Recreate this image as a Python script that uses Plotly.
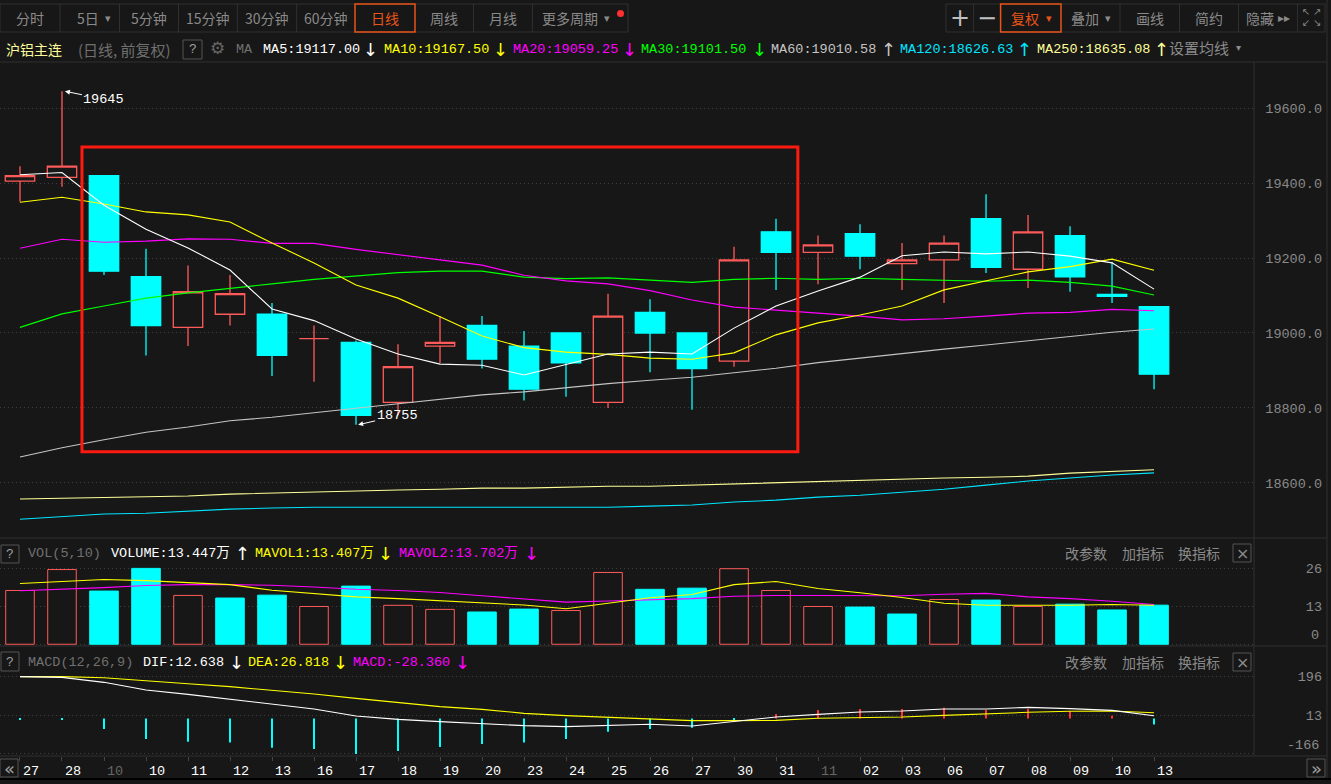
import plotly.graph_objects as go

W = 1331
H = 784
BG = "#171717"
GRAY = "#8a8a8a"
LINE = "#303030"
UP = "#ff5a5a"
DOWN = "#00ffff"
ORANGE = "#e8541a"
MONO = "Liberation Mono, Noto Sans CJK SC"
CJK = "Noto Sans CJK SC"

dates = ["27", "28", "10", "10", "11", "12", "13", "16", "17", "18", "19", "20", "23", "24",
         "25", "26", "27", "30", "31", "11", "02", "03", "06", "07", "08", "09", "10", "13"]
month_marks = [2, 19]  # first day of a month, drawn dimmer

opens = [19405, 19415, 19420, 19150, 19015, 19050, 19050, 18985, 18975, 18815, 18965, 19020, 18965, 19000,
         18815, 19055, 19000, 18925, 19270, 19215, 19265, 19185, 19195, 19305, 19170, 19260, 19103, 19070]
highs = [19445, 19645, 19420, 19225, 19180, 19155, 19080, 19020, 18980, 18970, 19045, 19045, 19005, 19000,
         19105, 19090, 19000, 19230, 19305, 19260, 19290, 19240, 19260, 19370, 19315, 19285, 19190, 19070]
lows = [19350, 19390, 19155, 18940, 18965, 19020, 18885, 18870, 18755, 18780, 18920, 18905, 18820, 18830,
        18800, 18895, 18795, 18910, 19115, 19130, 19170, 19115, 19080, 19160, 19120, 19110, 19080, 18850]
closes = [19420, 19445, 19165, 19020, 19110, 19105, 18940, 18985, 18780, 18910, 18975, 18930, 18850, 18920,
          19045, 19000, 18905, 19195, 19215, 19235, 19205, 19195, 19240, 19175, 19270, 19150, 19098, 18890]

ma5 = [19422, 19428, 19341, 19277, 19227, 19168, 19064, 19033, 18984, 18944, 18917, 18914, 18888, 18917,
       18944, 18949, 18944, 19013, 19072, 19112, 19149, 19206, 19216, 19211, 19216, 19205, 19187, 19117]
ma10 = [19349, 19362, 19344, 19323, 19315, 19296, 19240, 19187, 19128, 19093, 19043, 18992, 18961, 18949,
        18943, 18933, 18930, 18947, 18995, 19027, 19048, 19072, 19115, 19139, 19163, 19177, 19197, 19167.5]
ma20 = [19226, 19250, 19242, 19245, 19251, 19250, 19239, 19239, 19223, 19208, 19195, 19181, 19154, 19139,
        19131, 19113, 19088, 19069, 19061, 19055, 19045, 19035, 19038, 19045, 19053, 19055, 19063, 19059.25]
ma30 = [19015, 19051, 19072, 19093, 19107, 19120, 19131, 19143, 19152, 19161, 19165, 19165, 19149, 19145,
        19147, 19141, 19135, 19143, 19146, 19143, 19146, 19143, 19141, 19138, 19141, 19135, 19125, 19101.5]
ma60 = [18669, 18694, 18715, 18735, 18749, 18766, 18775, 18786, 18799, 18811, 18824, 18835, 18843, 18855,
        18865, 18874, 18882, 18894, 18906, 18921, 18933, 18946, 18957, 18968, 18979, 18990, 19002, 19010.58]
ma120 = [18503, 18511, 18517, 18519, 18525, 18530, 18533, 18535, 18535, 18535, 18535, 18533, 18533, 18533,
         18535, 18538, 18541, 18549, 18554, 18562, 18567, 18575, 18583, 18594, 18605, 18613, 18621, 18626.63]
ma250 = [18557, 18559, 18562, 18562, 18565, 18570, 18573, 18575, 18578, 18581, 18583, 18586, 18586, 18589,
         18591, 18591, 18594, 18599, 18602, 18605, 18607, 18610, 18613, 18615, 18618, 18626, 18631, 18635.08]

volume = [18.5, 25.7, 18.3, 26.1, 16.8, 15.9, 16.9, 13.0, 20.0, 13.4, 12.0, 11.1, 12.1, 11.6,
          24.7, 18.9, 19.3, 26.0, 18.5, 13.0, 12.8, 10.4, 15.4, 15.2, 13.0, 13.8, 11.8, 13.447]
volume_up = [1, 1, 0, 0, 1, 0, 0, 1, 0, 1, 1, 0, 0, 1, 1, 0, 0, 1, 1, 1, 0, 0, 1, 0, 1, 0, 0, 0]
mavol1 = [20.9, 21.6, 22.3, 21.9, 21.2, 20.5, 18.6, 17.5, 16.3, 15.7, 14.9, 14.1, 13.5, 12.2,
          14.2, 16.0, 17.1, 20.5, 21.6, 19.2, 17.7, 16.1, 14.1, 13.4, 13.4, 13.4, 13.7, 13.407]
mavol2 = [18.4, 18.9, 19.5, 20.2, 20.5, 20.5, 20.3, 19.7, 18.9, 18.5, 17.8, 16.7, 15.6, 14.5,
          14.9, 15.3, 15.7, 16.5, 16.8, 16.8, 16.7, 16.7, 17.2, 17.5, 16.3, 15.7, 14.8, 13.702]

dif = [195.8, 192.7, 169.3, 133.4, 113.0, 89.7, 66.2, 44.4, 11.6, -4.0, -15.0, -25.9, -33.7, -38.4,
       -32.1, -27.4, -35.2, -15.0, 6.9, 19.4, 30.3, 35.0, 44.4, 44.4, 52.2, 46.0, 38.1, 12.638]
dea = [195.8, 195.8, 191.1, 178.6, 163.0, 149.0, 133.4, 114.6, 94.3, 74.0, 55.3, 42.8, 24.1, 13.2,
       5.4, -4.0, -10.3, -10.3, -8.7, 0.7, 3.8, 6.9, 14.7, 22.5, 28.8, 33.5, 35.0, 26.818]
macd = [-7, -7, -49, -96, -109, -113, -137, -143, -166, -152, -134, -120, -113, -96,
        -62, -49, -43, -5, 21, 40, 44, 44, 50, 40, 44, 35, 13, -28.36]

price_ticks = [18600, 18800, 19000, 19200, 19400, 19600]
vol_ticks = [0, 13, 26]
macd_ticks = [-166, 13, 196]

x = list(range(len(dates)))
shapes = []
annotations = []


def px(v):
    return v / W


def py(v):
    return 1 - v / H


def label(left, mid, text, color=GRAY, size=13.5, font=MONO, anchor="left"):
    annotations.append(dict(
        x=px(left), y=py(mid), xref="paper", yref="paper", text=text, showarrow=False,
        xanchor=anchor, yanchor="middle", borderpad=0, borderwidth=0,
        font=dict(family=font, size=size, color=color),
    ))


def box(x0, y0, x1, y1, color=LINE, width=1, fill=None, layer="above"):
    shapes.append(dict(
        type="rect", xref="paper", yref="paper", x0=px(x0), x1=px(x1), y0=py(y0), y1=py(y1),
        line=dict(color=color, width=width), fillcolor=fill, layer=layer,
    ))


def rule(x0, y0, x1, y1, color=LINE, width=1):
    shapes.append(dict(
        type="line", xref="paper", yref="paper", x0=px(x0), x1=px(x1), y0=py(y0), y1=py(y1),
        line=dict(color=color, width=width), layer="below",
    ))


fig = go.Figure()

fig.add_trace(go.Candlestick(
    x=x, open=opens, high=highs, low=lows, close=closes, whiskerwidth=0,
    increasing=dict(line=dict(color=UP, width=1.3), fillcolor=BG),
    decreasing=dict(line=dict(color=DOWN, width=1.3), fillcolor=DOWN),
))
for values, color in [(ma120, "#00e5ff"), (ma250, "#ffff99"), (ma60, "#c4c4c4"), (ma30, "#00ff00"),
                      (ma20, "#ff00ff"), (ma10, "#ffff00"), (ma5, "#ffffff")]:
    fig.add_trace(go.Scatter(x=x, y=values, mode="lines", line=dict(color=color, width=1.1)))

fig.add_trace(go.Bar(
    x=x, y=volume, yaxis="y2", width=0.68,
    marker=dict(color=[BG if u else DOWN for u in volume_up],
                line=dict(color=[UP if u else DOWN for u in volume_up], width=1)),
))
fig.add_trace(go.Scatter(x=x, y=mavol2, yaxis="y2", mode="lines", line=dict(color="#ff00ff", width=1.1)))
fig.add_trace(go.Scatter(x=x, y=mavol1, yaxis="y2", mode="lines", line=dict(color="#ffff00", width=1.1)))

fig.add_trace(go.Bar(
    x=x, y=macd, yaxis="y3", width=0.024,
    marker=dict(color=["#ff3232" if v > 0 else DOWN for v in macd], line=dict(width=0)),
))
fig.add_trace(go.Scatter(x=x, y=dea, yaxis="y3", mode="lines", line=dict(color="#ffff00", width=1.1)))
fig.add_trace(go.Scatter(x=x, y=dif, yaxis="y3", mode="lines", line=dict(color="#ffffff", width=1.1)))

# top toolbar, left group
box(0, 4, 628, 32)
for div in [60, 119.5, 178.5, 237.4, 296.7, 473.5, 532.4]:
    rule(div, 4, div, 32)
box(355, 4, 415, 32, color=ORANGE, width=1.5)
for cx, text, color in [(30, "分时", GRAY), (88, "5日", GRAY), (149, "5分钟", GRAY), (208, "15分钟", GRAY),
                        (267, "30分钟", GRAY), (326, "60分钟", GRAY), (385, "日线", ORANGE), (444, "周线", GRAY),
                        (503, "月线", GRAY), (570, "更多周期", GRAY)]:
    label(cx, 18, text, color=color, size=14, font=CJK, anchor="center")
label(105, 18, "▾", size=11, font="DejaVu Sans")
label(604, 18, "▾", size=11, font="DejaVu Sans")
shapes.append(dict(type="circle", xref="paper", yref="paper", x0=px(617), x1=px(624), y0=py(10), y1=py(17),
                   fillcolor="#ff3030", line=dict(width=0)))

# top toolbar, right group
box(946, 4, 1325, 32)
for div in [973.6, 1120, 1179.5, 1238.5, 1297.6]:
    rule(div, 4, div, 32)
box(1000.6, 4, 1061, 32, color=ORANGE, width=1.5)
label(960, 18, "+", color="#c0c0c0", size=24, font="DejaVu Sans", anchor="center")
label(987, 18, "−", color="#c0c0c0", size=24, font="DejaVu Sans", anchor="center")
label(1025, 18, "复权", color=ORANGE, size=14, font=CJK, anchor="center")
label(1046, 18, "▾", color=ORANGE, size=11, font="DejaVu Sans")
label(1085, 18, "叠加", size=14, font=CJK, anchor="center")
label(1105, 18, "▾", size=11, font="DejaVu Sans")
label(1150, 18, "画线", size=14, font=CJK, anchor="center")
label(1209, 18, "简约", size=14, font=CJK, anchor="center")
label(1260, 18, "隐藏", size=14, font=CJK, anchor="center")
label(1278, 18, "▸▸", size=12, font="DejaVu Sans")
for cx, cy, text in [(1306, 12, "↖"), (1317, 12, "↗"), (1306, 23, "↙"), (1317, 23, "↘")]:
    label(cx, cy, text, size=10, font="DejaVu Sans", anchor="center")

# moving average header row
label(6, 49, "沪铝主连", color="#ffff99", size=14, font=CJK)
label(78, 49, "(日线, 前复权)", color="#707070", size=15, font=CJK)
box(183, 40, 202, 59, color="#555555")
label(192.5, 49.5, "?", color="#a0a0a0", size=13, anchor="center")
label(217, 48, "⚙", color="#666666", size=17, font="DejaVu Sans", anchor="center")
label(236, 49, "MA", color="#707070")
for left, text, color, arrow_x, arrow in [
    (263, "MA5:19117.00", "#ffffff", 371, "↓"),
    (384, "MA10:19167.50", "#ffff00", 500, "↓"),
    (513, "MA20:19059.25", "#ff00ff", 629, "↓"),
    (641, "MA30:19101.50", "#00ff00", 759, "↓"),
    (771, "MA60:19010.58", "#c4c4c4", 888, "↑"),
    (900, "MA120:18626.63", "#00e5ff", 1024, "↑"),
    (1037, "MA250:18635.08", "#ffff99", 1161, "↑"),
]:
    label(left, 49, text, color=color)
    label(arrow_x, 49, arrow, color=color, size=18, font="DejaVu Sans", anchor="center")
label(1169, 48, "设置均线", size=15, font=CJK)
label(1236, 48, "▾", size=10, font="DejaVu Sans")

# volume header row
box(1, 545, 19, 563, color="#555555")
label(10, 554, "?", color="#a0a0a0", size=13, anchor="center")
label(28, 553, "VOL(5,10)", color="#707070")
label(111, 553, "VOLUME:13.447万", color="#ffffff")
label(242, 553, "↑", color="#ffffff", size=18, font="DejaVu Sans", anchor="center")
label(255, 553, "MAVOL1:13.407万", color="#ffff00")
label(386, 553, "↓", color="#ffff00", size=18, font="DejaVu Sans", anchor="center")
label(399, 553, "MAVOL2:13.702万", color="#ff00ff")
label(531, 553, "↓", color="#ff00ff", size=18, font="DejaVu Sans", anchor="center")

# macd header row
box(1, 652, 19, 671, color="#555555")
label(10, 662, "?", color="#a0a0a0", size=13, anchor="center")
label(28, 662, "MACD(12,26,9)", color="#707070")
label(143, 662, "DIF:12.638", color="#ffffff")
label(236, 662, "↓", color="#ffffff", size=18, font="DejaVu Sans", anchor="center")
label(248, 662, "DEA:26.818", color="#ffff00")
label(340, 662, "↓", color="#ffff00", size=18, font="DejaVu Sans", anchor="center")
label(353, 662, "MACD:-28.360", color="#ff00ff")
label(462, 662, "↓", color="#ff00ff", size=18, font="DejaVu Sans", anchor="center")

for mid in [553, 662]:
    label(1065, mid, "改参数", size=14, font=CJK)
    label(1122, mid, "加指标", size=14, font=CJK)
    label(1178, mid, "换指标", size=14, font=CJK)
    box(1233, mid - 9, 1251, mid + 9, color="#555555")
    label(1242, mid, "×", size=16, font="DejaVu Sans", anchor="center")

# the lowest label of each lower panel sits above its gridline
label(1319, 635, str(vol_ticks[0]), anchor="right")
label(1319, 745, str(macd_ticks[0]), anchor="right")

# panel frame
rule(0, 62, 1327, 62)
rule(0, 538, 1327, 538)
rule(0, 646, 1327, 646)
rule(0, 756, 1327, 756)
rule(1254, 62, 1254, 756)
rule(1327, 0, 1327, 779)
rule(0, 779, 1331, 779, color="#000000", width=2)
box(0, 759, 18, 777, color="#555555")
label(9, 768, "«", color="#a0a0a0", size=18, font="DejaVu Sans", anchor="center")
box(1307, 759, 1325, 777, color="#555555")
label(1316, 768, "»", color="#a0a0a0", size=18, font="DejaVu Sans", anchor="center")

# the red marked range on the price panel
shapes.append(dict(type="rect", xref="x", yref="y", x0=1.476, x1=18.52, y0=18683, y1=19496,
                   line=dict(color="#ff1a10", width=3), layer="above"))

annotations.append(dict(x=1.07, y=19645, xref="x", yref="y", text="19645", ax=39, ay=8,
                        arrowcolor="#ffffff", arrowwidth=1, arrowhead=2, arrowsize=1, showarrow=True,
                        font=dict(family=MONO, size=13.5, color="#ffffff")))
annotations.append(dict(x=8.05, y=18755, xref="x", yref="y", text="18755", ax=39, ay=-9,
                        arrowcolor="#ffffff", arrowwidth=1, arrowhead=2, arrowsize=1, showarrow=True,
                        font=dict(family=MONO, size=13.5, color="#ffffff")))

tick_text = [f'<span style="color:#666666">{d}</span>' if i in month_marks else d for i, d in enumerate(dates)]
y_common = dict(
    side="left", anchor="free", position=px(1322), ticks="", showline=False, zeroline=False, automargin=False,
    showgrid=True, gridcolor="#3e3e3e", griddash="1px,3px", gridwidth=1,
    tickfont=dict(family=MONO, size=13.5, color=GRAY),
)

fig.update_layout(
    width=W,
    height=H,
    margin=dict(l=0, r=0, t=0, b=0),
    paper_bgcolor=BG,
    plot_bgcolor=BG,
    showlegend=False,
    barmode="overlay",
    boxgap=0.3,
    boxgroupgap=0,
    shapes=shapes,
    annotations=annotations,
    xaxis=dict(
        domain=[0, px(1254)], range=[-0.476, 29.38], anchor="y3", rangeslider=dict(visible=False),
        tickmode="array", tickvals=x, ticktext=tick_text, ticks="outside", ticklen=4, tickcolor="#444444",
        ticklabelshift=11, ticklabelstandoff=-2, showgrid=False, zeroline=False, showline=False, automargin=False,
        tickfont=dict(family=MONO, size=13.5, color="#ffffff"), tickangle=0,
    ),
    yaxis=dict(domain=[py(538), py(62)], range=[18453, 19723], tickmode="array", tickvals=price_ticks,
               tickformat=".1f", **y_common),
    yaxis2=dict(domain=[py(646), py(562)], range=[-0.6, 28.3], tickmode="array", tickvals=vol_ticks,
                ticktext=["", "13", "26"], **y_common),
    yaxis3=dict(domain=[py(756), py(672)], range=[-175.8, 217.7], tickmode="array", tickvals=macd_ticks,
                ticktext=["", "13", "196"], **y_common),
)

fig.write_html("out.html", config=dict(displayModeBar=False),
               post_script="document.body.style.margin='0';document.body.style.overflow='hidden';")
